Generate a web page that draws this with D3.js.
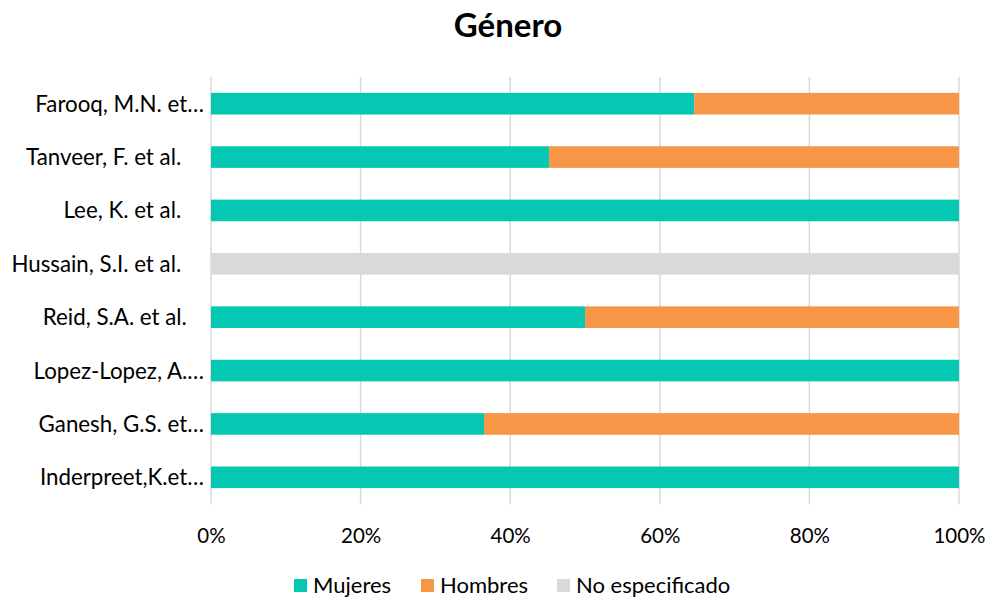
<!DOCTYPE html>
<html>
<head>
<meta charset="utf-8">
<script src="https://cdn.jsdelivr.net/npm/d3@7"></script>
<style>
  html, body { margin: 0; padding: 0; background: #fff; }
  svg text { font-family: Lato, "Open Sans", sans-serif; fill: #000; white-space: pre; }
</style>
</head>
<body>
<svg id="chart" width="991" height="601"></svg>
<script>
// Studies, top to bottom (labels keep their trailing padding)
const studies = [
  "Farooq, M.N. et…",
  "Tanveer, F. et al.    ",
  "Lee, K. et al.    ",
  "Hussain, S.I. et al.    ",
  "Reid, S.A. et al.   ",
  "Lopez-Lopez, A.…",
  "Ganesh, G.S. et…",
  "Inderpreet,K.et…"
];
// Share of participants (%) per study
const mujeres        = [64.6, 45.2, 100, 0, 50, 100, 36.5, 100];
const hombres        = [35.4, 54.8, 0, 0, 50, 0, 63.5, 0];
const noEspecificado = [0, 0, 0, 100, 0, 0, 0, 0];

const seriesNames = ["Mujeres", "Hombres", "No especificado"];
const seriesColors = ["#05C8B3", "#F79646", "#D9D9D9"];
const tickValues = [0, 20, 40, 60, 80, 100];

const svg = d3.select("#chart");
const margin = { left: 211, right: 32, top: 77, bottom: 97 };
const W = 991, H = 601;

const x = d3.scaleLinear().domain([0, 100]).range([margin.left, W - margin.right]);
const y = d3.scaleBand().domain(studies).range([margin.top, H - margin.bottom])
  .paddingInner(0.595).paddingOuter(0.2975);

// Title
svg.append("text")
  .attr("x", 508).attr("y", 37)
  .attr("text-anchor", "middle")
  .style("font-size", "33px").style("font-weight", "bold")
  .text("Género");

// Vertical gridlines
svg.append("g").selectAll("line").data(tickValues).join("line")
  .attr("x1", d => x(d)).attr("x2", d => x(d))
  .attr("y1", margin.top).attr("y2", H - margin.bottom + 0.5)
  .attr("stroke", "#D9D9D9").attr("stroke-width", 1.5);

// Stacked bars
const rows = studies.map((s, i) => ({ study: s, Mujeres: mujeres[i], Hombres: hombres[i], "No especificado": noEspecificado[i] }));
const stack = d3.stack().keys(seriesNames)(rows);
svg.append("g").selectAll("g").data(stack).join("g")
  .attr("fill", (d, i) => seriesColors[i])
  .selectAll("rect").data(d => d).join("rect")
  .attr("x", d => x(d[0]))
  .attr("width", d => x(d[1]) - x(d[0]))
  .attr("y", d => y(d.data.study))
  .attr("height", y.bandwidth());

// X axis labels
const xAxis = d3.axisBottom(x).tickValues(tickValues).tickFormat(d => d + "%").tickSize(0).tickPadding(0);
const gx = svg.append("g").attr("transform", `translate(0, ${543})`).call(xAxis);
gx.select(".domain").remove();
gx.selectAll("text").style("font-size", "20.5px").style("font-family", "Lato, sans-serif").attr("dy", "0").attr("y", 0);

// Category labels
const yAxis = d3.axisLeft(y).tickSize(0).tickPadding(7);
const gy = svg.append("g").attr("transform", `translate(${margin.left}, 0)`).call(yAxis);
gy.select(".domain").remove();
gy.selectAll("text").style("font-size", "22.3px").style("font-family", "Lato, sans-serif")
  .style("white-space", "pre").attr("dy", "0.36em");

// Legend
const legendX = [294, 421, 557];
const lg = svg.append("g").selectAll("g").data(seriesNames).join("g")
  .attr("transform", (d, i) => `translate(${legendX[i]}, 579)`);
lg.append("rect").attr("x", 0).attr("y", 0).attr("width", 13).attr("height", 13)
  .attr("fill", (d, i) => seriesColors[i]);
lg.append("text").attr("x", 19).attr("y", 14)
  .style("font-size", "22px").text(d => d);
</script>
</body>
</html>
